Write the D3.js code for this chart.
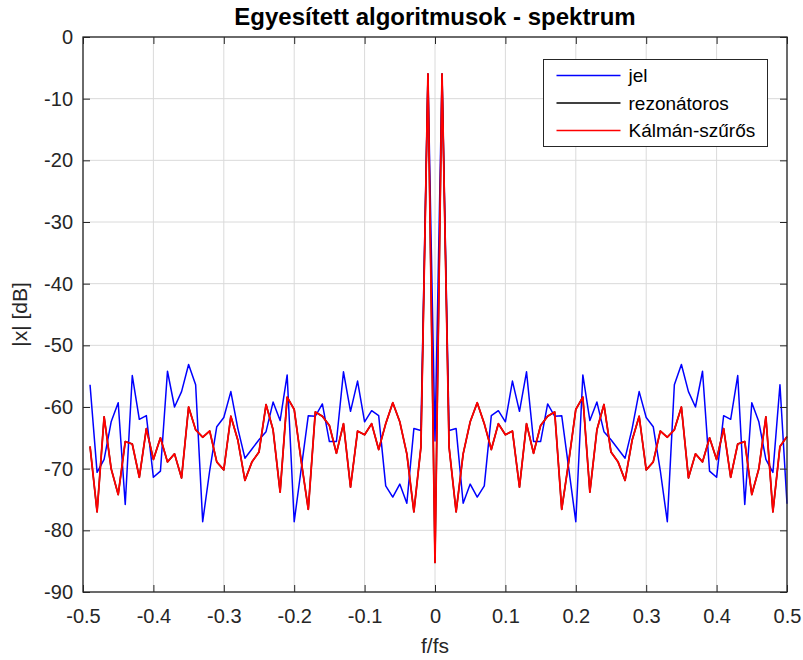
<!DOCTYPE html>
<html>
<head>
<meta charset="utf-8">
<script src="https://cdn.jsdelivr.net/npm/d3@7"></script>
<style>
    body { margin: 0; background: #fff; }
    svg { display: block; font-family: "Liberation Sans", Arial, sans-serif; }
</style>
</head>
<body>
<svg id="chart" width="803" height="660"></svg>
<script>
// frequency bins (f/fs)
const freq = [
    -0.49,-0.48,-0.47,-0.46,-0.45,-0.44,-0.43,-0.42,-0.41,-0.40,
    -0.39,-0.38,-0.37,-0.36,-0.35,-0.34,-0.33,-0.32,-0.31,-0.30,
    -0.29,-0.28,-0.27,-0.26,-0.25,-0.24,-0.23,-0.22,-0.21,-0.20,
    -0.19,-0.18,-0.17,-0.16,-0.15,-0.14,-0.13,-0.12,-0.11,-0.10,
    -0.09,-0.08,-0.07,-0.06,-0.05,-0.04,-0.03,-0.02,-0.01,0.00,
    0.01,0.02,0.03,0.04,0.05,0.06,0.07,0.08,0.09,0.10,
    0.11,0.12,0.13,0.14,0.15,0.16,0.17,0.18,0.19,0.20,
    0.21,0.22,0.23,0.24,0.25,0.26,0.27,0.28,0.29,0.30,
    0.31,0.32,0.33,0.34,0.35,0.36,0.37,0.38,0.39,0.40,
    0.41,0.42,0.43,0.44,0.45,0.46,0.47,0.48,0.49,0.50
];

// jel
const jel = [
    -56.4,-70.6,-68.5,-62.4,-59.3,-75.8,-54.9,-62.0,-61.4,-71.4,
    -70.4,-54.2,-60.0,-57.5,-53.1,-56.4,-78.6,-70.3,-63.2,-61.7,
    -57.5,-63.5,-68.3,-66.8,-65.3,-64.0,-59.2,-62.2,-54.8,-78.6,
    -70.0,-61.4,-61.5,-59.5,-65.6,-65.6,-54.3,-60.7,-55.8,-62.4,
    -60.6,-61.4,-72.8,-74.6,-72.5,-75.6,-63.5,-63.8,-6.0,-65.5,
    -6.0,-63.8,-63.5,-75.6,-72.5,-74.6,-72.8,-61.4,-60.6,-62.4,
    -55.8,-60.7,-54.3,-65.6,-65.6,-59.5,-61.5,-61.4,-70.0,-78.6,
    -54.8,-62.2,-59.2,-64.0,-65.3,-66.8,-68.3,-63.5,-57.5,-61.7,
    -63.2,-70.3,-78.6,-56.4,-53.1,-57.5,-60.0,-54.2,-70.4,-71.4,
    -61.4,-62.0,-54.9,-75.8,-59.3,-62.4,-68.5,-70.6,-56.4,-75.7
];

// Kálmán-szűrős (rezonátoros lies exactly under it)
const kalman = [
    -66.4,-77.0,-61.6,-70.0,-74.2,-65.6,-66.0,-71.4,-63.5,-68.5,
    -65.0,-68.9,-67.6,-71.5,-60.0,-63.7,-64.9,-63.9,-68.9,-70.2,
    -61.5,-65.4,-71.9,-68.9,-67.3,-59.6,-63.7,-73.8,-58.4,-60.4,
    -68.8,-76.6,-60.8,-61.5,-63.0,-67.5,-62.7,-73.0,-63.9,-64.5,
    -62.7,-66.9,-62.7,-59.3,-62.4,-67.6,-77.0,-66.5,-6.0,-85.2,
    -6.0,-66.5,-77.0,-67.6,-62.4,-59.3,-62.7,-66.9,-62.7,-64.5,
    -63.9,-73.0,-62.7,-67.5,-63.0,-61.5,-60.8,-76.6,-68.8,-60.4,
    -58.4,-73.8,-63.7,-59.6,-67.3,-68.9,-71.9,-65.4,-61.5,-70.2,
    -68.9,-63.9,-64.9,-63.7,-60.0,-71.5,-67.6,-68.9,-65.0,-68.5,
    -63.5,-71.4,-66.0,-65.6,-74.2,-70.0,-61.6,-77.0,-66.4,-64.8
];
const rezonatoros = kalman.slice();

const xTicks = [-0.5,-0.4,-0.3,-0.2,-0.1,0,0.1,0.2,0.3,0.4,0.5];
const yTicks = [0,-10,-20,-30,-40,-50,-60,-70,-80,-90];
const seriesNames = ["jel", "rezonátoros", "Kálmán-szűrős"];
const seriesColors = ["#0000ff", "#000000", "#ff0000"];

const margin = {left: 83, top: 37, right: 16, bottom: 68};
const W = 803, H = 660;
const iw = W - margin.left - margin.right;
const ih = H - margin.top - margin.bottom;
const axisColor = "#262626";

const svg = d3.select("#chart");
const g = svg.append("g").attr("transform", `translate(${margin.left},${margin.top})`);

const x = d3.scaleLinear().domain([-0.5, 0.5]).range([0, iw]);
const y = d3.scaleLinear().domain([-90, 0]).range([ih, 0]);

// grid
g.append("g").selectAll("line").data(xTicks).join("line")
    .attr("x1", d => x(d)).attr("x2", d => x(d))
    .attr("y1", 0).attr("y2", ih)
    .attr("stroke", "#dadada").attr("stroke-width", 1);
g.append("g").selectAll("line").data(yTicks).join("line")
    .attr("x1", 0).attr("x2", iw)
    .attr("y1", d => y(d)).attr("y2", d => y(d))
    .attr("stroke", "#dadada").attr("stroke-width", 1);

// series
const line = d3.line().x((d, i) => x(freq[i])).y(d => y(d));
const series = [
    {vals: jel, color: seriesColors[0], w: 1.5},
    {vals: rezonatoros, color: seriesColors[1], w: 1.5},
    {vals: kalman, color: seriesColors[2], w: 1.8}
];
series.forEach(s => {
    g.append("path")
        .datum(s.vals)
        .attr("d", line)
        .attr("fill", "none")
        .attr("stroke", s.color)
        .attr("stroke-width", s.w)
        .attr("stroke-linejoin", "round");
});

// axes
const fmt = d => String(d);
const styleAxis = sel => {
    sel.select(".domain").remove();
    sel.selectAll(".tick line").attr("stroke", axisColor);
    sel.selectAll(".tick text").attr("fill", axisColor).attr("font-size", "20px");
};
g.append("g").attr("transform", `translate(0,${ih})`)
    .call(d3.axisBottom(x).tickValues(xTicks).tickFormat(fmt).tickSizeInner(-7).tickSizeOuter(0).tickPadding(17))
    .call(styleAxis)
    .attr("font-family", null);
g.append("g")
    .call(d3.axisTop(x).tickValues(xTicks).tickFormat("").tickSizeInner(-7).tickSizeOuter(0))
    .call(styleAxis);
g.append("g")
    .call(d3.axisLeft(y).tickValues(yTicks).tickFormat(fmt).tickSizeInner(-7).tickSizeOuter(0).tickPadding(10))
    .call(styleAxis)
    .attr("font-family", null);
g.append("g").attr("transform", `translate(${iw},0)`)
    .call(d3.axisRight(y).tickValues(yTicks).tickFormat("").tickSizeInner(-7).tickSizeOuter(0))
    .call(styleAxis);

// frame
g.append("rect")
    .attr("x", 0).attr("y", 0).attr("width", iw).attr("height", ih)
    .attr("fill", "none").attr("stroke", axisColor).attr("stroke-width", 1.3);

// title and labels
svg.append("text")
    .attr("x", margin.left + iw / 2).attr("y", 25)
    .attr("text-anchor", "middle")
    .attr("font-size", "24px").attr("font-weight", "bold")
    .attr("fill", "#000")
    .text("Egyesített algoritmusok - spektrum");

svg.append("text")
    .attr("x", margin.left + iw / 2).attr("y", 653)
    .attr("text-anchor", "middle")
    .attr("font-size", "21px").attr("fill", axisColor)
    .text("f/fs");

svg.append("text")
    .attr("transform", `translate(27,${margin.top + ih / 2}) rotate(-90)`)
    .attr("text-anchor", "middle")
    .attr("font-size", "21px").attr("fill", axisColor)
    .text("|x| [dB]");

// legend
const lg = svg.append("g").attr("transform", "translate(543.5,59.5)");
lg.append("rect")
    .attr("width", 224).attr("height", 87)
    .attr("fill", "#fff").attr("stroke", axisColor).attr("stroke-width", 1);
seriesNames.forEach((name, i) => {
    const yy = 16 + i * 27.5;
    lg.append("line")
        .attr("x1", 13).attr("x2", 77).attr("y1", yy).attr("y2", yy)
        .attr("stroke", seriesColors[i]).attr("stroke-width", 1.5);
    lg.append("text")
        .attr("x", 85).attr("y", yy).attr("dy", "0.35em")
        .attr("font-size", "19px").attr("fill", "#000")
        .text(name);
});
</script>
</body>
</html>
